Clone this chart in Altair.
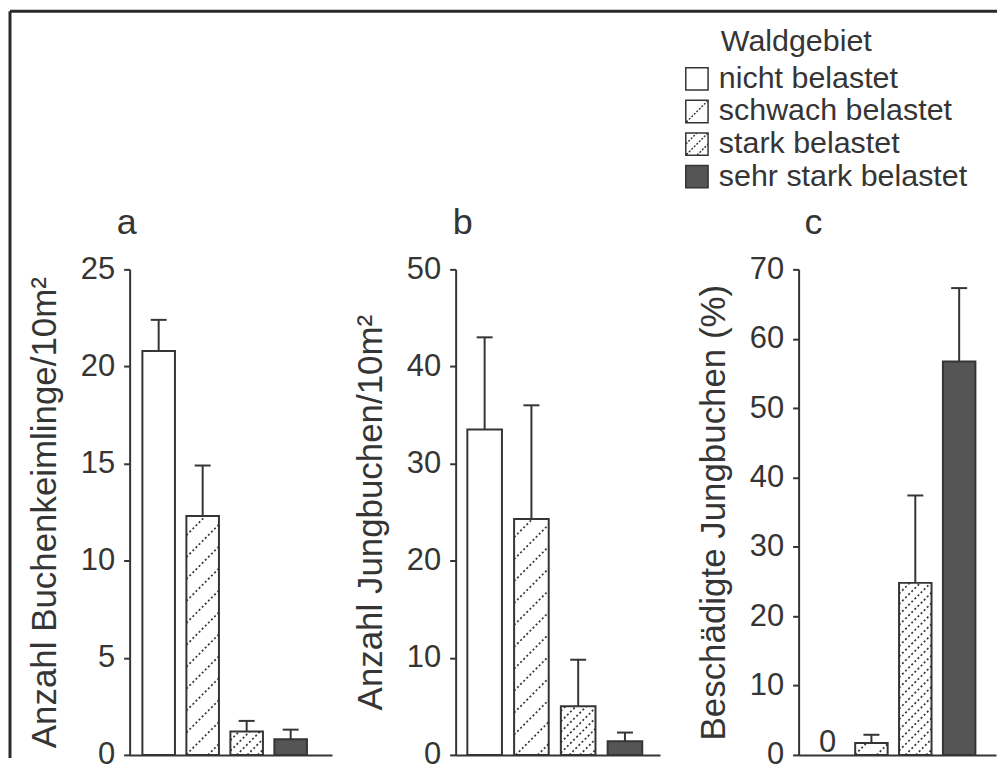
import altair as alt
import pandas as pd

# ---------------- data ----------------
categories = ["nicht belastet", "schwach belastet", "stark belastet", "sehr stark belastet"]
keimlinge = [20.8, 12.3, 1.2, 0.8]
keimlinge_err = [22.4, 14.9, 1.75, 1.3]
jungbuchen = [33.5, 24.3, 5.0, 1.4]
jungbuchen_err = [43.0, 36.0, 9.8, 2.3]
beschaedigt = [0.0, 1.7, 24.8, 56.7]
beschaedigt_err = [None, 2.9, 37.4, 67.3]

panel_letters = ["a", "b", "c"]
y_titles = ["Anzahl Buchenkeimlinge/10m²", "Anzahl Jungbuchen/10m²", "Beschädigte Jungbuchen (%)"]
y_max = [25, 50, 70]
y_step = [5, 10, 10]
legend_title = "Waldgebiet"

# ---------------- style ----------------
INK = "#353535"
FONT = "Liberation Sans"
fills = ["#ffffff", "#ffffff", "#ffffff", "#555555"]
hatch_spacing = [None, 22.0, 10.5, None]   # px, vertical distance between hatch lines
H = 487
HW = 0.37


def dots(x0, y0, x1, y1, n):
    parts = []
    for i in range(n + 1):
        t = i / n
        x = x0 + (x1 - x0) * t
        y = y0 + (y1 - y0) * t
        parts.append(f"M{x:.3f},{y:.3f}L{x + 0.05:.3f},{y - 0.05:.3f}")
    return "".join(parts)


SQ = "M-1,-1H1V1H-1Z"
shape_paths = [
    SQ,
    SQ + dots(-0.9, 0.9, 0.9, -0.9, 8),
    SQ + dots(-0.95, -0.05, -0.05, -0.95, 4) + dots(-0.9, 0.9, 0.9, -0.9, 8) + dots(0.05, 0.95, 0.95, 0.05, 4),
    SQ,
]


def hatch_rows(pos, val, spacing, ppx, ppy):
    w = 2 * HW * ppx
    h = val * ppy
    rows = []
    k = -w + spacing * 0.5
    while k < h:
        xs = max(0.0, -k)
        xe = min(w, h - k)
        if xe - xs > 0.8:
            rows.append(dict(hx=pos - HW + xs / ppx, hx2=pos - HW + xe / ppx,
                             hy=(xs + k) / ppy, hy2=(xe + k) / ppy))
        k += spacing
    return rows


def panel(i, vals, errs, xdom, W, letter_dx, extra=None):
    ppx = W / (xdom[1] - xdom[0])
    ppy = H / y_max[i]
    cap = 8 / ppx
    df = pd.DataFrame({
        "cat": categories,
        "pos": list(range(len(categories))),
        "val": vals,
        "err": errs,
    })
    df["lo"] = df["pos"] - HW
    df["hi"] = df["pos"] + HW
    df["base"] = 0.0
    df["cl"] = df["pos"] - cap
    df["cr"] = df["pos"] + cap
    df["lab"] = df["val"].map(lambda v: f"{v:g}")

    hrows = []
    for p, v, s in zip(df["pos"], df["val"], hatch_spacing):
        if s and v > 0:
            hrows += hatch_rows(p, v, s, ppx, ppy)
    hdf = pd.DataFrame(hrows)

    xs = alt.Scale(domain=list(xdom), nice=False, zero=False)
    ys = alt.Scale(domain=[0, y_max[i]], nice=False)
    xaxis = alt.Axis(labels=False, ticks=False, title=None, grid=False,
                     domainColor=INK, domainWidth=2)
    yaxis = alt.Axis(values=list(range(0, y_max[i] + 1, y_step[i])), title=y_titles[i],
                     grid=False, domainColor=INK, domainWidth=2, tickColor=INK, tickWidth=2,
                     tickSize=6, labelFont=FONT, labelFontSize=31, labelColor=INK, labelPadding=9,
                     titleFont=FONT, titleFontSize=35, titleFontWeight="normal", titleColor=INK,
                     titlePadding=18)

    def X(f):
        return alt.X(f, type="quantitative", scale=xs, axis=xaxis)

    def Y(f):
        return alt.Y(f, type="quantitative", scale=ys, axis=yaxis)

    bars = alt.Chart(df).transform_filter("datum.val > 0").mark_rect(
        stroke=INK, strokeWidth=2).encode(
        x=X("lo"), x2="hi", y=Y("val"), y2="base",
        fill=alt.Fill("cat:N", scale=alt.Scale(domain=categories, range=fills), legend=None))
    hatch = alt.Chart(hdf).mark_rule(color=INK, strokeWidth=1.7, strokeDash=[2, 2.4]).encode(
        x=X("hx"), x2="hx2", y=Y("hy"), y2="hy2")
    err_line = alt.Chart(df).transform_filter("isValid(datum.err)").mark_rule(
        color=INK, strokeWidth=2).encode(x=X("pos"), y=Y("val"), y2="err")
    err_cap = alt.Chart(df).transform_filter("isValid(datum.err)").mark_rule(
        color=INK, strokeWidth=2).encode(x=X("cl"), x2="cr", y=Y("err"))
    zero_lab = alt.Chart(df).transform_filter("datum.val == 0").mark_text(
        font=FONT, fontSize=31, color=INK, baseline="alphabetic", dy=-3).encode(
        x=X("pos"), y=Y("base"), text="lab:N")
    letter = alt.Chart(pd.DataFrame({"t": [panel_letters[i]]})).mark_text(
        align="left", baseline="alphabetic", font=FONT, fontSize=36, color=INK).encode(
        x=alt.value(letter_dx), y=alt.value(-35), text="t:N")

    main = alt.layer(bars, hatch, err_line, err_cap, zero_lab, letter)
    layers = [main]
    if extra is not None:
        layers += extra
    ch = alt.layer(*layers)
    if extra is not None:
        ch = ch.resolve_scale(y="independent")
    return ch.properties(width=W, height=H)


# legend built from the category list
leg_df = pd.DataFrame({"cat": categories, "row": [1, 2, 3, 4]})
leg_y = alt.Y("row:Q", scale=alt.Scale(domain=[1, 4], range=[-191, -93]), axis=None)
leg_sym = alt.Chart(leg_df).mark_point(filled=True, stroke=INK, strokeWidth=1.5, size=500,
                                       opacity=1, strokeCap="round").encode(
    x=alt.value(-102), y=leg_y,
    color=alt.Color("cat:N", scale=alt.Scale(domain=categories, range=fills), legend=None),
    shape=alt.Shape("cat:N", scale=alt.Scale(domain=categories, range=shape_paths), legend=None))
leg_txt = alt.Chart(leg_df).mark_text(align="left", baseline="middle", font=FONT, fontSize=30.5,
                                      color=INK).encode(x=alt.value(-80), y=leg_y, text="cat:N")
leg_head = alt.Chart(pd.DataFrame({"t": [legend_title]})).mark_text(
    align="left", baseline="middle", font=FONT, fontSize=30.5, color=INK).encode(
    x=alt.value(-78), y=alt.value(-228), text="t:N")
legend = alt.layer(leg_sym, leg_txt, leg_head)

# scan frame (left and top border)
frame_df = pd.DataFrame({"k": [0]})
frame_v = alt.Chart(frame_df).mark_rule(color="#2a2a2a", strokeWidth=3).encode(
    x=alt.value(-120), y=alt.value(-259), y2=alt.value(490))
frame_h = alt.Chart(frame_df).mark_rule(color="#2a2a2a", strokeWidth=3).encode(
    x=alt.value(-120), x2=alt.value(870), y=alt.value(-259))

pa = panel(0, keimlinge, keimlinge_err, (-0.66, 3.94), 203, -13, extra=None)
pa = alt.layer(pa, frame_v, frame_h)
pb = panel(1, jungbuchen, jungbuchen_err, (-0.62, 3.75), 205, -3)
pc = panel(2, beschaedigt, beschaedigt_err, (-0.66, 3.84), 198, 6, extra=[legend])

inner = alt.hconcat(pb, pc, spacing=139, bounds="flush")
chart = alt.hconcat(pa, inner, spacing=124, bounds="flush").properties(
    padding=0, background="white"
).configure_view(stroke=None)

chart.save("out.html", embed_options={"renderer": "svg", "actions": False})
